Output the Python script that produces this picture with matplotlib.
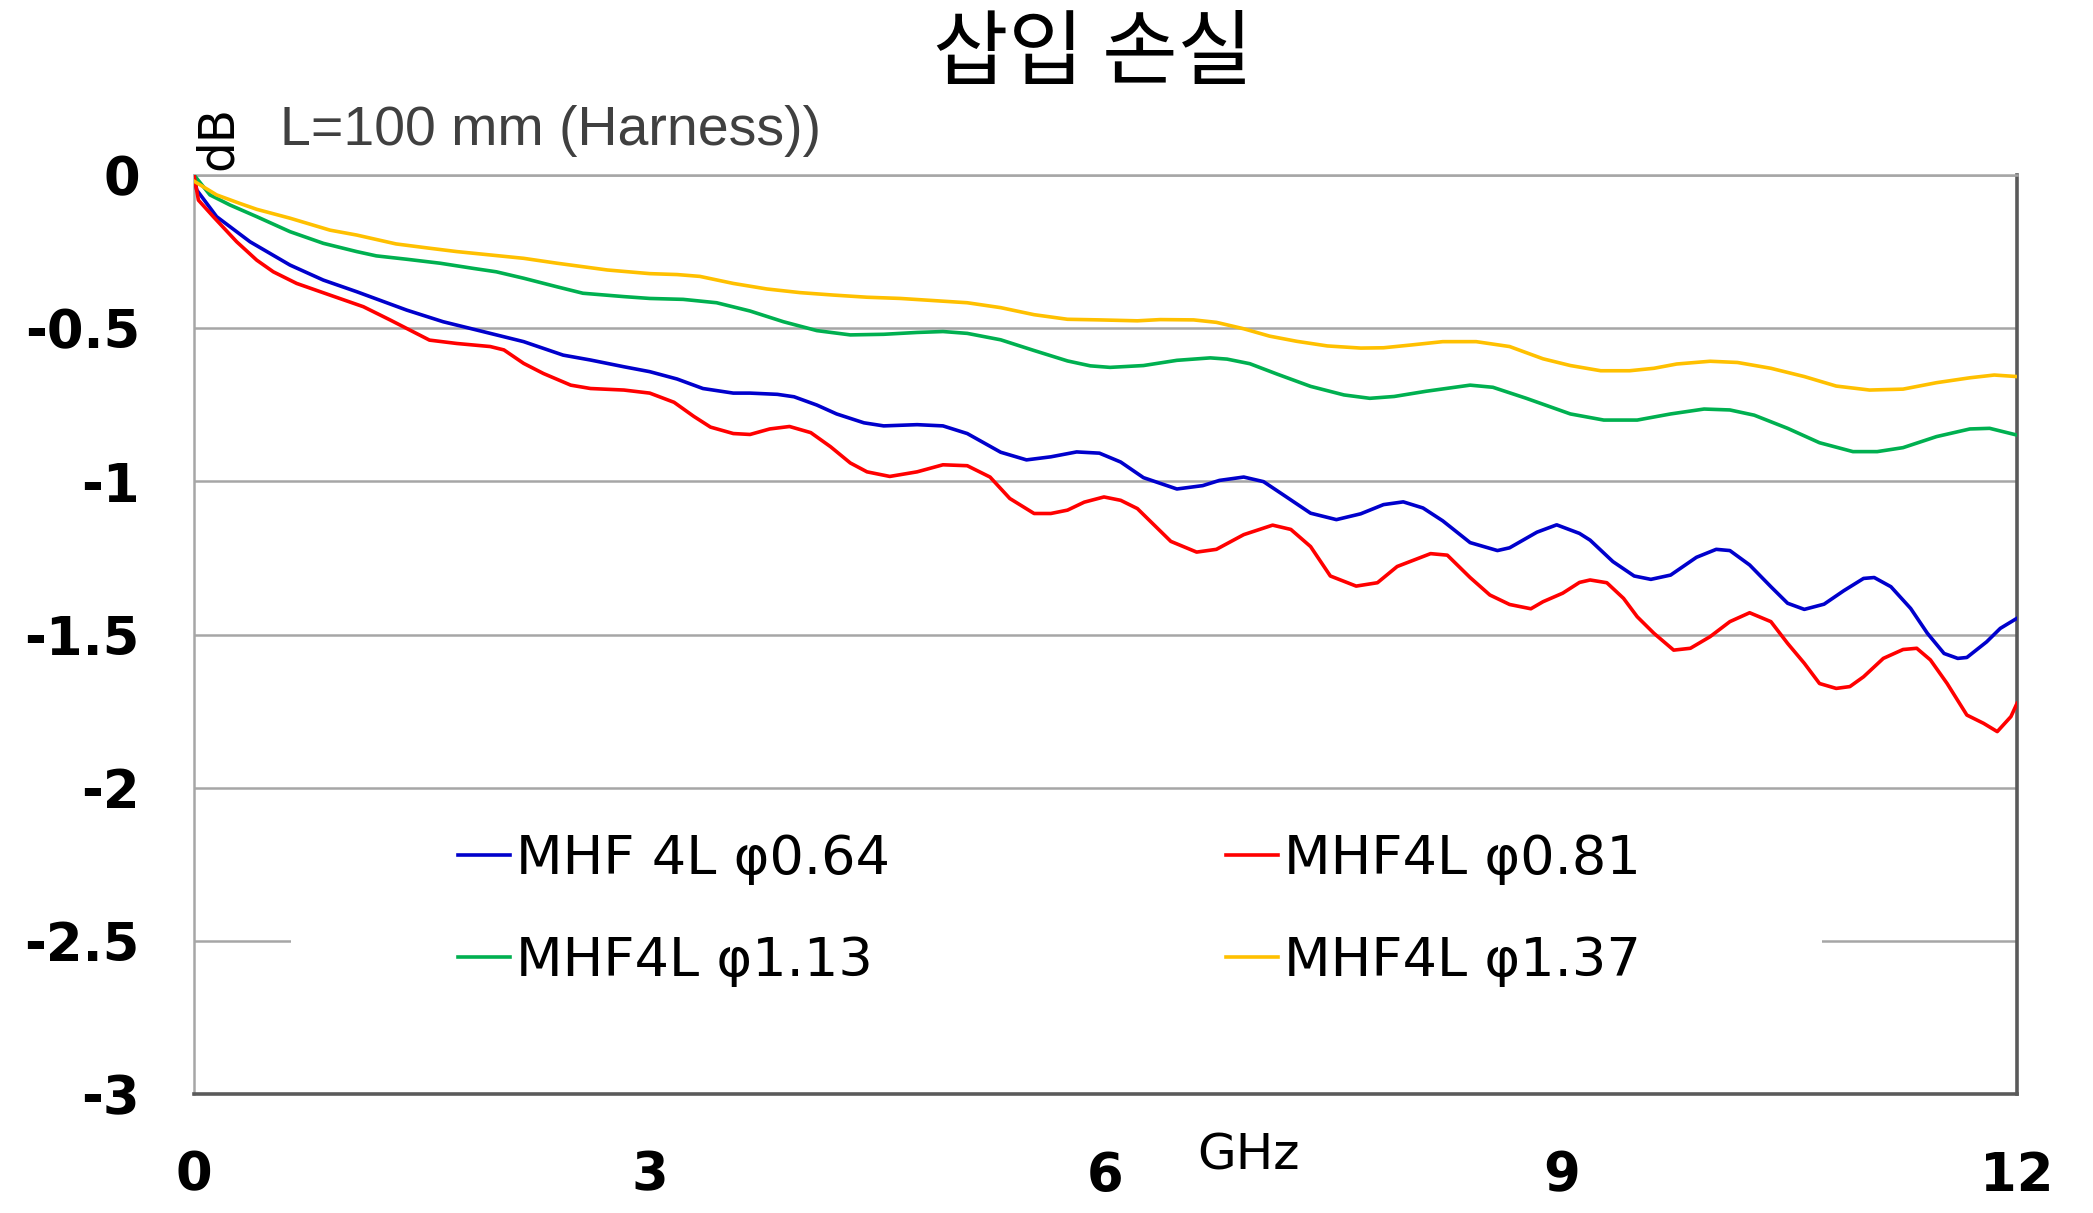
import matplotlib
matplotlib.use("Agg")
import matplotlib.pyplot as plt
from matplotlib.patches import Rectangle

# ---------------- data ----------------
title = "삽입 손실"
subtitle = "L=100 mm (Harness))"
x_label = "GHz"
y_label = "dB"
x_ticks = [0, 3, 6, 9, 12]
y_ticks = [0, -0.5, -1, -1.5, -2, -2.5, -3]
y_tick_labels = ["0", "-0.5", "-1", "-1.5", "-2", "-2.5", "-3"]

labels = ["MHF 4L φ0.64", "MHF4L φ1.13", "MHF4L φ0.81", "MHF4L φ1.37"]

freq_064 = [0.0, 0.018, 0.149, 0.369, 0.632, 0.851, 1.071, 1.40, 1.64, 1.95, 2.17, 2.43,
            2.61, 2.83, 3.00, 3.18, 3.35, 3.55, 3.66, 3.84, 3.95, 4.10, 4.23, 4.41, 4.54,
            4.76, 4.93, 5.09, 5.31, 5.48, 5.64, 5.81, 5.96, 6.10, 6.25, 6.47, 6.64, 6.75,
            6.91, 7.04, 7.17, 7.35, 7.52, 7.68, 7.83, 7.96, 8.09, 8.22, 8.40, 8.58, 8.66,
            8.84, 8.97, 9.12, 9.19, 9.34, 9.48, 9.59, 9.72, 9.89, 10.02, 10.11, 10.24,
            10.38, 10.49, 10.60, 10.73, 10.86, 10.99, 11.06, 11.17, 11.30, 11.41, 11.52,
            11.61, 11.67, 11.80, 11.89, 12.0]
loss_064 = [0.0, -0.049, -0.136, -0.218, -0.294, -0.343, -0.381, -0.441, -0.479, -0.517,
            -0.544, -0.588, -0.604, -0.626, -0.642, -0.666, -0.697, -0.712, -0.712, -0.716,
            -0.724, -0.751, -0.780, -0.809, -0.819, -0.815, -0.819, -0.844, -0.905, -0.930,
            -0.920, -0.904, -0.908, -0.937, -0.988, -1.025, -1.014, -0.997, -0.986, -1.001,
            -1.044, -1.104, -1.125, -1.106, -1.076, -1.067, -1.087, -1.129, -1.200, -1.226,
            -1.217, -1.166, -1.142, -1.170, -1.192, -1.262, -1.309, -1.320, -1.306, -1.248,
            -1.222, -1.226, -1.273, -1.344, -1.398, -1.418, -1.401, -1.357, -1.317, -1.314,
            -1.344, -1.415, -1.496, -1.562, -1.578, -1.575, -1.524, -1.480, -1.447]

freq_081 = [0.0, 0.029, 0.127, 0.281, 0.413, 0.522, 0.676, 0.895, 1.115, 1.29, 1.42, 1.55,
            1.73, 1.95, 2.04, 2.17, 2.30, 2.48, 2.61, 2.83, 3.00, 3.16, 3.29, 3.40, 3.55,
            3.66, 3.79, 3.92, 4.06, 4.19, 4.32, 4.43, 4.58, 4.76, 4.93, 5.09, 5.24, 5.37,
            5.53, 5.64, 5.75, 5.86, 5.99, 6.10, 6.21, 6.43, 6.60, 6.73, 6.91, 7.10, 7.22,
            7.35, 7.48, 7.65, 7.79, 7.92, 8.14, 8.25, 8.40, 8.53, 8.66, 8.80, 8.88, 9.01,
            9.12, 9.19, 9.30, 9.41, 9.50, 9.61, 9.74, 9.85, 9.98, 10.11, 10.24, 10.38,
            10.49, 10.60, 10.70, 10.81, 10.90, 10.99, 11.12, 11.25, 11.34, 11.43, 11.54,
            11.67, 11.78, 11.87, 11.96, 12.0]
loss_081 = [0.0, -0.082, -0.136, -0.218, -0.278, -0.316, -0.354, -0.392, -0.430, -0.473,
            -0.506, -0.539, -0.550, -0.560, -0.571, -0.615, -0.648, -0.686, -0.697, -0.702,
            -0.712, -0.742, -0.788, -0.823, -0.844, -0.847, -0.829, -0.821, -0.841, -0.887,
            -0.940, -0.969, -0.984, -0.969, -0.946, -0.949, -0.986, -1.056, -1.105, -1.105,
            -1.094, -1.068, -1.051, -1.062, -1.089, -1.196, -1.231, -1.222, -1.174, -1.143,
            -1.157, -1.213, -1.309, -1.342, -1.331, -1.278, -1.236, -1.241, -1.314, -1.371,
            -1.402, -1.416, -1.393, -1.365, -1.330, -1.322, -1.331, -1.382, -1.442, -1.496,
            -1.551, -1.545, -1.507, -1.458, -1.429, -1.458, -1.529, -1.594, -1.660, -1.676,
            -1.670, -1.638, -1.578, -1.549, -1.545, -1.583, -1.660, -1.763, -1.790, -1.817,
            -1.768, -1.725]

freq_113 = [0.0, 0.105, 0.237, 0.413, 0.632, 0.851, 1.071, 1.20, 1.40, 1.62, 1.84, 1.99,
            2.17, 2.39, 2.56, 2.83, 3.00, 3.22, 3.44, 3.66, 3.88, 4.10, 4.32, 4.54, 4.76,
            4.93, 5.09, 5.31, 5.53, 5.75, 5.90, 6.03, 6.25, 6.47, 6.69, 6.80, 6.95, 7.13,
            7.35, 7.57, 7.74, 7.90, 8.11, 8.40, 8.55, 8.77, 9.06, 9.28, 9.50, 9.72, 9.94,
            10.11, 10.27, 10.49, 10.70, 10.92, 11.08, 11.25, 11.47, 11.69, 11.82, 12.0]
loss_113 = [0.0, -0.065, -0.098, -0.136, -0.185, -0.223, -0.250, -0.264, -0.275, -0.288,
            -0.305, -0.316, -0.337, -0.365, -0.386, -0.397, -0.403, -0.406, -0.417, -0.444,
            -0.479, -0.508, -0.522, -0.520, -0.514, -0.511, -0.517, -0.538, -0.573, -0.607,
            -0.623, -0.628, -0.622, -0.605, -0.597, -0.601, -0.616, -0.650, -0.690, -0.718,
            -0.729, -0.723, -0.706, -0.686, -0.693, -0.729, -0.780, -0.800, -0.800, -0.780,
            -0.764, -0.767, -0.784, -0.827, -0.874, -0.903, -0.903, -0.890, -0.854, -0.829,
            -0.827, -0.849]

freq_137 = [0.0, 0.149, 0.303, 0.413, 0.632, 0.895, 1.071, 1.33, 1.55, 1.73, 1.95, 2.17,
            2.39, 2.72, 3.00, 3.18, 3.33, 3.55, 3.77, 3.99, 4.21, 4.43, 4.65, 4.87, 5.09,
            5.31, 5.53, 5.75, 5.96, 6.21, 6.36, 6.58, 6.73, 6.91, 7.08, 7.26, 7.46, 7.68,
            7.83, 8.01, 8.22, 8.44, 8.66, 8.88, 9.06, 9.26, 9.45, 9.61, 9.76, 9.98, 10.16,
            10.38, 10.60, 10.81, 11.03, 11.25, 11.47, 11.69, 11.85, 12.0]
loss_137 = [-0.02, -0.065, -0.093, -0.112, -0.141, -0.180, -0.196, -0.225, -0.239, -0.250,
            -0.261, -0.272, -0.288, -0.310, -0.322, -0.325, -0.331, -0.354, -0.372, -0.384,
            -0.392, -0.399, -0.403, -0.410, -0.417, -0.433, -0.456, -0.471, -0.473, -0.476,
            -0.472, -0.473, -0.481, -0.502, -0.526, -0.543, -0.558, -0.565, -0.564, -0.555,
            -0.544, -0.544, -0.560, -0.600, -0.622, -0.639, -0.639, -0.631, -0.617, -0.608,
            -0.612, -0.631, -0.658, -0.689, -0.702, -0.699, -0.678, -0.662, -0.653, -0.658]

series = [
    (freq_064, loss_064, labels[0], "#0000CC"),
    (freq_113, loss_113, labels[1], "#00B050"),
    (freq_081, loss_081, labels[2], "#FF0000"),
    (freq_137, loss_137, labels[3], "#FFC000"),
]

# ---------------- figure ----------------
W, H = 2093, 1213
fig = plt.figure(figsize=(W / 100, H / 100), dpi=100)
ax = fig.add_axes([194 / W, 1 - 1094 / H, (2017 - 194) / W, (1094 - 175) / H])

ax.set_xlim(0, 12)
ax.set_ylim(-3, 0)
ax.set_axisbelow(True)
ax.yaxis.grid(True, color="#A6A6A6", linewidth=1.8)
ax.xaxis.grid(False)

for fx, ly, lab, col in series:
    ax.plot(fx, ly, color=col, linewidth=2.6, label=lab, zorder=3,
            solid_joinstyle="round")

ax.set_xticks(x_ticks)
ax.set_xticklabels([str(t) for t in x_ticks])
ax.set_yticks(y_ticks)
ax.set_yticklabels(y_tick_labels)
ax.tick_params(axis="both", length=0, labelsize=38)
ax.tick_params(axis="x", pad=40)
ax.tick_params(axis="y", pad=39)
for t in ax.get_xticklabels() + ax.get_yticklabels():
    t.set_fontweight("bold")
    t.set_family("DejaVu Sans")

for side in ("top", "left"):
    ax.spines[side].set_color("#A6A6A6")
    ax.spines[side].set_linewidth(1.8)
for side in ("bottom", "right"):
    ax.spines[side].set_color("#5A5A5A")
    ax.spines[side].set_linewidth(2.6)

# white legend area (covers gridline as in the reference)
ax.add_patch(Rectangle((0.053, 0.06), 0.84, 0.235, transform=ax.transAxes,
                       facecolor="white", edgecolor="none", zorder=1))

leg = ax.legend(loc="upper left", bbox_to_anchor=(0.145, 0.284), ncol=2,
                frameon=False, handlelength=0.95, handletextpad=0.12,
                columnspacing=6.2, labelspacing=0.93, borderpad=0, borderaxespad=0,
                prop={"family": "DejaVu Sans", "size": 39})
leg.set_zorder(5)
for h in leg.get_lines():
    h.set_linewidth(2.6)

# texts
fig.text(1093 / W, 1 - 55 / H, title, ha="center", va="center", fontsize=59,
         family=["Noto Sans CJK KR", "DejaVu Sans"])
fig.text(280 / W, 1 - 131 / H, subtitle, ha="left", va="center", fontsize=40,
         color="#404040", family=["Liberation Sans", "DejaVu Sans"])
fig.text(218 / W, 1 - 138 / H, y_label, ha="center", va="center", rotation=90,
         fontsize=35, family="DejaVu Sans")
fig.text(1248 / W, 1 - 1155 / H, x_label, ha="center", va="center", fontsize=36,
         family="DejaVu Sans")

fig.savefig("out.png", dpi=100, facecolor="white")
